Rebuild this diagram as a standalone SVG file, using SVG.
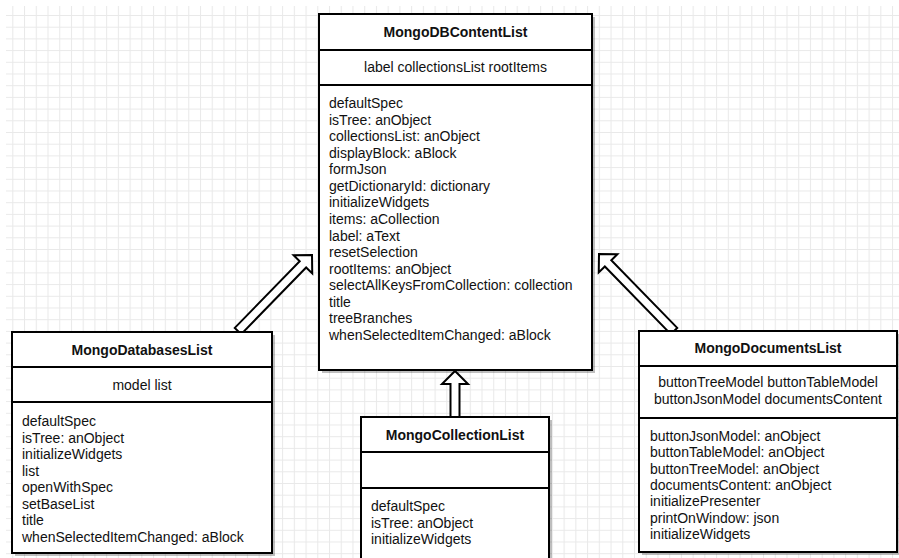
<svg xmlns="http://www.w3.org/2000/svg" width="899" height="558" viewBox="0 0 899 558">
  <defs>
    <pattern id="grid" patternUnits="userSpaceOnUse" x="0.57" y="3.3" width="11.73" height="11.7">
      <rect width="11.73" height="11.7" fill="#ffffff"/>
      <path d="M0.5 0 V11.7 M0 0.5 H11.73" stroke="#e9e9e9" stroke-width="1" fill="none"/>
    </pattern>
    <style>
      .box { fill: #ffffff; stroke: #000000; stroke-width: 2; }
      .shadow { fill: #000000; opacity: 0.25; }
      .div { stroke: #000000; stroke-width: 2; }
      .title { font-family: "Liberation Sans", Arial, sans-serif; font-size: 14px; font-weight: bold; fill: #111111; text-anchor: middle; }
      .attr { font-family: "Liberation Sans", Arial, sans-serif; font-size: 14px; fill: #111111; text-anchor: middle; }
      .body { font-family: "Liberation Sans", Arial, sans-serif; font-size: 14px; fill: #111111; }
      .arrow { fill: #ffffff; stroke: #000000; stroke-width: 2; stroke-linejoin: miter; }
    </style>
  </defs>
  <rect x="0" y="0" width="899" height="558" fill="#ffffff"/>
  <rect x="6" y="6" width="893" height="552" fill="url(#grid)"/>

  <g id="connectors">
    <polygon class="arrow" points="459.5,417 459.5,384 468,384 455,371 442,384 450.5,384 450.5,417"/>
    <polygon class="arrow" points="241.22,334.14 306.15,267.45 312.24,273.38 312,255 293.62,255.24 299.71,261.17 234.78,327.86"/>
    <polygon class="arrow" points="677.22,327.86 611.29,260.17 617.38,254.24 599,254 598.76,272.38 604.85,266.45 670.78,334.14"/>
  </g>

  <g id="MongoDBContentList">
    <rect class="shadow" x="322" y="17" width="273" height="356"/>
    <rect class="box" x="319" y="14" width="273" height="356"/>
    <line class="div" x1="319" y1="50" x2="592" y2="50"/>
    <line class="div" x1="319" y1="85" x2="592" y2="85"/>
    <text class="title" x="455.5" y="37">MongoDBContentList</text>
    <text class="attr" x="455.5" y="72">label collectionsList rootItems</text>
    <text class="body" x="329" y="108">
      <tspan x="329" dy="0">defaultSpec</tspan>
      <tspan x="329" dy="16.57">isTree: anObject</tspan>
      <tspan x="329" dy="16.57">collectionsList: anObject</tspan>
      <tspan x="329" dy="16.57">displayBlock: aBlock</tspan>
      <tspan x="329" dy="16.57">formJson</tspan>
      <tspan x="329" dy="16.57">getDictionaryId: dictionary</tspan>
      <tspan x="329" dy="16.57">initializeWidgets</tspan>
      <tspan x="329" dy="16.57">items: aCollection</tspan>
      <tspan x="329" dy="16.57">label: aText</tspan>
      <tspan x="329" dy="16.57">resetSelection</tspan>
      <tspan x="329" dy="16.57">rootItems: anObject</tspan>
      <tspan x="329" dy="16.57">selectAllKeysFromCollection: collection</tspan>
      <tspan x="329" dy="16.57">title</tspan>
      <tspan x="329" dy="16.57">treeBranches</tspan>
      <tspan x="329" dy="16.57">whenSelectedItemChanged: aBlock</tspan>
    </text>
  </g>

  <g id="MongoDatabasesList">
    <rect class="shadow" x="15" y="335" width="260" height="221"/>
    <rect class="box" x="12" y="332" width="260" height="221"/>
    <line class="div" x1="12" y1="367" x2="272" y2="367"/>
    <line class="div" x1="12" y1="402" x2="272" y2="402"/>
    <text class="title" x="142" y="355">MongoDatabasesList</text>
    <text class="attr" x="142" y="390">model list</text>
    <text class="body" x="22" y="426">
      <tspan x="22" dy="0">defaultSpec</tspan>
      <tspan x="22" dy="16.5">isTree: anObject</tspan>
      <tspan x="22" dy="16.5">initializeWidgets</tspan>
      <tspan x="22" dy="16.5">list</tspan>
      <tspan x="22" dy="16.5">openWithSpec</tspan>
      <tspan x="22" dy="16.5">setBaseList</tspan>
      <tspan x="22" dy="16.5">title</tspan>
      <tspan x="22" dy="16.5">whenSelectedItemChanged: aBlock</tspan>
    </text>
  </g>

  <g id="MongoCollectionList">
    <rect class="shadow" x="364" y="420" width="188" height="160"/>
    <rect class="box" x="361" y="417" width="188" height="160"/>
    <line class="div" x1="361" y1="452" x2="549" y2="452"/>
    <line class="div" x1="361" y1="488" x2="549" y2="488"/>
    <text class="title" x="455" y="440">MongoCollectionList</text>
    <text class="body" x="371" y="511">
      <tspan x="371" dy="0">defaultSpec</tspan>
      <tspan x="371" dy="16.5">isTree: anObject</tspan>
      <tspan x="371" dy="16.5">initializeWidgets</tspan>
    </text>
  </g>

  <g id="MongoDocumentsList">
    <rect class="shadow" x="642" y="334" width="258" height="221"/>
    <rect class="box" x="639" y="331" width="258" height="221"/>
    <line class="div" x1="639" y1="366" x2="897" y2="366"/>
    <line class="div" x1="639" y1="418" x2="897" y2="418"/>
    <text class="title" x="768" y="353">MongoDocumentsList</text>
    <text class="attr" x="768" y="387">buttonTreeModel buttonTableModel</text>
    <text class="attr" x="768" y="403.5">buttonJsonModel documentsContent</text>
    <text class="body" x="650" y="441">
      <tspan x="650" dy="0">buttonJsonModel: anObject</tspan>
      <tspan x="650" dy="16.3">buttonTableModel: anObject</tspan>
      <tspan x="650" dy="16.3">buttonTreeModel: anObject</tspan>
      <tspan x="650" dy="16.3">documentsContent: anObject</tspan>
      <tspan x="650" dy="16.3">initializePresenter</tspan>
      <tspan x="650" dy="16.3">printOnWindow: json</tspan>
      <tspan x="650" dy="16.3">initializeWidgets</tspan>
    </text>
  </g>
</svg>
